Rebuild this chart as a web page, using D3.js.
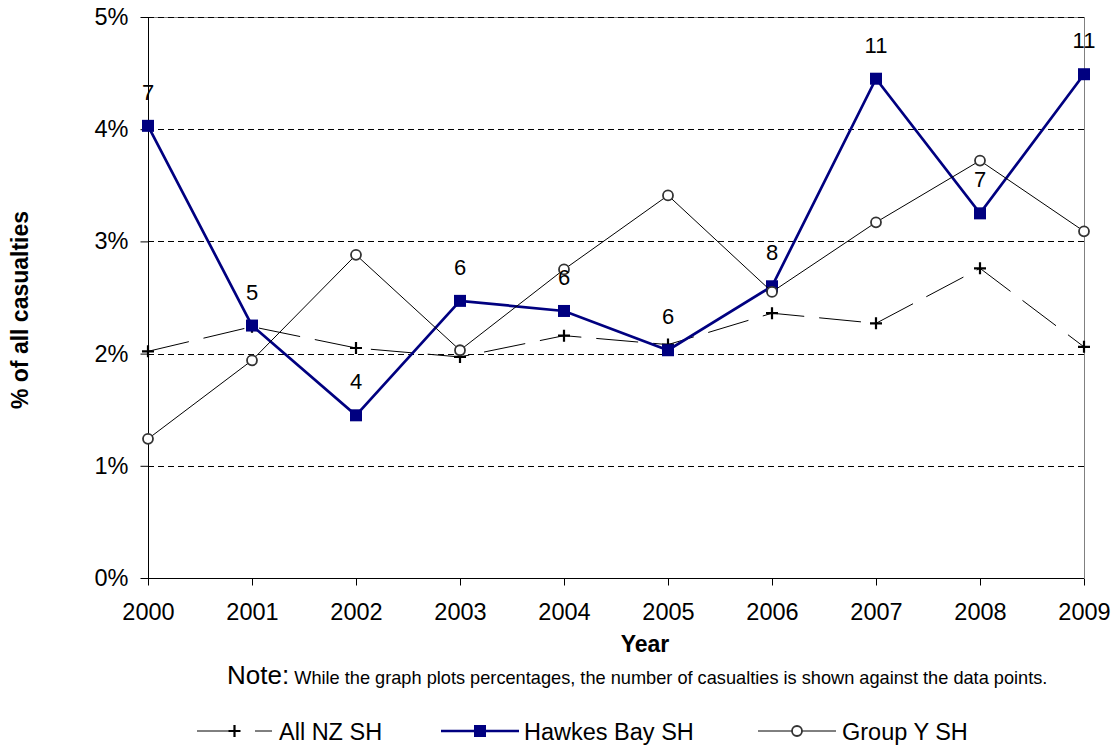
<!DOCTYPE html>
<html>
<head>
<meta charset="utf-8">
<script src="https://cdn.jsdelivr.net/npm/d3@7"></script>
<style>
  html, body { margin: 0; padding: 0; background: #fff; }
  svg { display: block; font-family: "Liberation Sans", Arial, sans-serif; }
</style>
</head>
<body>
<svg id="chart" width="1115" height="747"></svg>
<script>
const years = [2000, 2001, 2002, 2003, 2004, 2005, 2006, 2007, 2008, 2009];
const allNZ = [2.02, 2.24, 2.05, 1.97, 2.16, 2.08, 2.36, 2.27, 2.76, 2.06];
const hawkesBay = [4.03, 2.25, 1.45, 2.47, 2.38, 2.03, 2.60, 4.45, 3.25, 4.49];
const groupY = [1.24, 1.94, 2.88, 2.03, 2.75, 3.41, 2.55, 3.17, 3.72, 3.09];
const hawkesCounts = [7, 5, 4, 6, 6, 6, 8, 11, 7, 11];
const yTicks = [0, 1, 2, 3, 4, 5];
const seriesNames = ["All NZ SH", "Hawkes Bay SH", "Group Y SH"];

(function () {
const svg = d3.select("#chart");
const pLeft = 148, pRight = 1084, pTop = 17, pBottom = 578;

const x = d3.scaleLinear().domain([2000, 2009]).range([pLeft, pRight]);
const y = d3.scaleLinear().domain([0, 5]).range([pBottom, pTop]);

// plot border (top/right)
svg.append("line").attr("x1", pLeft).attr("x2", pRight).attr("y1", pTop + 0.5).attr("y2", pTop + 0.5)
  .attr("stroke", "#808080").attr("stroke-width", 1);
svg.append("line").attr("x1", pRight + 0.5).attr("x2", pRight + 0.5).attr("y1", pTop).attr("y2", pBottom)
  .attr("stroke", "#808080").attr("stroke-width", 1);

// gridlines
svg.append("g").selectAll("line").data(yTicks.filter(d => d > 0)).join("line")
  .attr("x1", pLeft).attr("x2", pRight)
  .attr("y1", d => Math.round(y(d)) + 0.5).attr("y2", d => Math.round(y(d)) + 0.5)
  .attr("stroke", "#000").attr("stroke-width", 1).attr("stroke-dasharray", "6,4");

// Y axis
const yAxis = d3.axisLeft(y).tickValues(yTicks).tickFormat(d => d + "%").tickSize(8).tickPadding(12);
const gy = svg.append("g").attr("transform", `translate(${pLeft + 0.5},0)`).call(yAxis);
gy.select(".domain").attr("stroke", "#000").attr("d", `M0,${pTop}V${pBottom}`);
gy.selectAll(".tick line").attr("stroke", "#000");
gy.selectAll(".tick text").attr("font-size", 23.5).attr("fill", "#000")
  .attr("font-family", "'Liberation Sans', Arial, sans-serif");

// X axis
const xAxis = d3.axisBottom(x).tickValues(years).tickFormat(d3.format("d")).tickSize(7).tickPadding(18);
const gx = svg.append("g").attr("transform", `translate(0,${pBottom + 0.5})`).call(xAxis);
gx.select(".domain").attr("stroke", "#000").attr("d", `M${pLeft},0H${pRight}`);
gx.selectAll(".tick line").attr("stroke", "#000");
gx.selectAll(".tick text").attr("font-size", 23.5).attr("fill", "#000")
  .attr("font-family", "'Liberation Sans', Arial, sans-serif");

// axis titles
svg.append("text").attr("x", 645).attr("y", 652).attr("text-anchor", "middle")
  .attr("font-size", 23).attr("font-weight", "bold").text("Year");
svg.append("text").attr("transform", "translate(28,310) rotate(-90)").attr("text-anchor", "middle")
  .attr("font-size", 23).attr("font-weight", "bold").text("% of all casualties");

// series lines
const line = d3.line().x((d, i) => x(years[i])).y(d => y(d));
svg.append("path").datum(allNZ).attr("d", line).attr("fill", "none")
  .attr("stroke", "#000").attr("stroke-width", 1).attr("stroke-dasharray", "42,15");
const plus = (g, cx, cy) => {
  g.append("path").attr("d", `M${cx - 6},${cy}H${cx + 6}M${cx},${cy - 6}V${cy + 6}`)
    .attr("stroke", "#000").attr("stroke-width", 2.2);
};
const gPlus = svg.append("g");
allNZ.forEach((v, i) => plus(gPlus, x(years[i]), y(v)));

svg.append("path").datum(hawkesBay).attr("d", line).attr("fill", "none")
  .attr("stroke", "#000080").attr("stroke-width", 2.7);
svg.append("g").selectAll("rect").data(hawkesBay).join("rect")
  .attr("x", (d, i) => x(years[i]) - 6).attr("y", d => y(d) - 6)
  .attr("width", 12).attr("height", 12).attr("fill", "#000080");

svg.append("path").datum(groupY).attr("d", line).attr("fill", "none")
  .attr("stroke", "#000").attr("stroke-width", 1);
svg.append("g").selectAll("circle").data(groupY).join("circle")
  .attr("cx", (d, i) => x(years[i])).attr("cy", d => y(d)).attr("r", 5)
  .attr("fill", "#fff").attr("stroke", "#333").attr("stroke-width", 1.8);

// count labels
svg.append("g").selectAll("text").data(hawkesCounts).join("text")
  .attr("x", (d, i) => x(years[i])).attr("y", (d, i) => y(hawkesBay[i]) - 26)
  .attr("text-anchor", "middle").attr("font-size", 22).attr("fill", "#000").text(d => d);

// note
const note = svg.append("text").attr("x", 227).attr("y", 684).attr("fill", "#000");
note.append("tspan").attr("font-size", 26).text("Note:");
note.append("tspan").attr("font-size", 18.2).text(" While the graph plots percentages, the number of casualties is shown against the data points.");

// legend
const ly = 731;
const lg = svg.append("g");
lg.append("line").attr("x1", 197).attr("x2", 272).attr("y1", ly).attr("y2", ly)
  .attr("stroke", "#000").attr("stroke-width", 1).attr("stroke-dasharray", "32,26");
plus(lg, 234.5, ly);
lg.append("text").attr("x", 279).attr("y", ly + 9).attr("font-size", 23.5).text(seriesNames[0]);
lg.append("line").attr("x1", 441).attr("x2", 519).attr("y1", ly).attr("y2", ly)
  .attr("stroke", "#000080").attr("stroke-width", 2.7);
lg.append("rect").attr("x", 474).attr("y", ly - 6).attr("width", 12).attr("height", 12).attr("fill", "#000080");
lg.append("text").attr("x", 524).attr("y", ly + 9).attr("font-size", 23.5).text(seriesNames[1]);
lg.append("line").attr("x1", 758).attr("x2", 836).attr("y1", ly).attr("y2", ly)
  .attr("stroke", "#000").attr("stroke-width", 1);
lg.append("circle").attr("cx", 797).attr("cy", ly).attr("r", 5)
  .attr("fill", "#fff").attr("stroke", "#333").attr("stroke-width", 1.8);
lg.append("text").attr("x", 842).attr("y", ly + 9).attr("font-size", 23.5).text(seriesNames[2]);
})();
</script>
</body>
</html>
